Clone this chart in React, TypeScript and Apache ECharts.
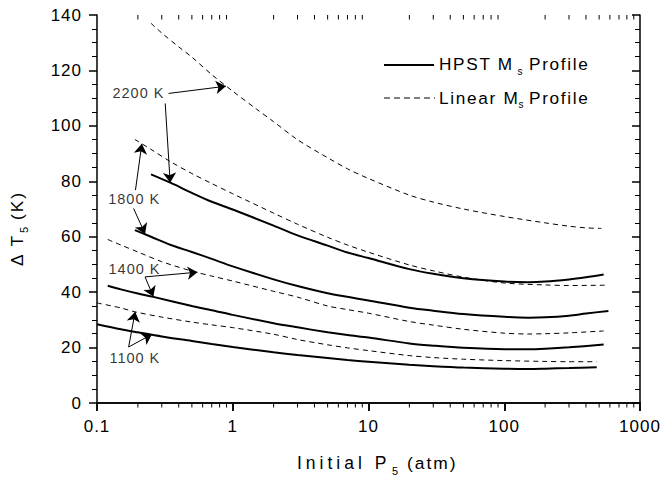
import React, { useEffect, useRef } from 'react';
import * as echarts from 'echarts';

// ---- axis ticks ----
const xMajorTicks = [0.1, 1, 10, 100, 1000];
const xMinorTicks = [0.2, 0.3, 0.4, 0.5, 0.6, 0.7, 0.8, 0.9, 2, 3, 4, 5, 6, 7, 8, 9, 20, 30, 40, 50, 60, 70, 80, 90, 200, 300, 400, 500, 600, 700, 800, 900];
const yMin = 0;
const yMax = 140;
const yInterval = 20;

// ---- series (Initial P5 atm, ΔT5 K) ----
const linear2200 = [[0.25, 137], [0.3, 133.5], [0.4, 128.5], [0.5, 124.8], [0.7, 118.5], [1, 112.5], [1.5, 106], [2, 101.5], [3, 95], [5, 88.5], [7, 84.5], [10, 81], [20, 75], [30, 72.5], [50, 70], [100, 67.3], [200, 65], [300, 63.8], [400, 63.2], [520, 63]];
const hpst2200 = [[0.25, 82.5], [0.35, 79.4], [0.5, 75.8], [0.7, 72.6], [1, 69.8], [2, 64], [3, 60.5], [5, 56.8], [7, 54.3], [10, 52.3], [20, 48.3], [30, 46.6], [50, 45], [100, 43.8], [150, 43.6], [200, 43.8], [300, 44.6], [400, 45.4], [540, 46.4]];
const linear1800 = [[0.19, 95.1], [0.25, 91.5], [0.35, 87], [0.5, 82.8], [0.7, 79.2], [1, 75.5], [2, 68.5], [3, 64.5], [5, 59.8], [7, 57], [10, 54.4], [20, 49.8], [30, 47.7], [50, 45.4], [100, 43.3], [200, 42.6], [300, 42.4], [550, 42.5]];
const hpst1800 = [[0.19, 62.4], [0.25, 60], [0.35, 57], [0.5, 54.5], [0.7, 52], [1, 49.3], [2, 44.6], [3, 42.2], [5, 39.6], [7, 38.3], [10, 37], [20, 34.4], [30, 33.3], [50, 32.1], [100, 31.1], [150, 30.8], [200, 30.9], [300, 31.5], [400, 32.3], [585, 33.2]];
const linear1400 = [[0.12, 59], [0.15, 57], [0.2, 54.5], [0.3, 51], [0.5, 47.6], [0.7, 45.8], [1, 44], [2, 40.3], [3, 38.2], [5, 35], [7, 33.7], [10, 32.4], [20, 29.4], [30, 28.1], [50, 26.6], [100, 25.2], [150, 24.9], [200, 25], [300, 25.3], [540, 26]];
const hpst1400 = [[0.12, 42.3], [0.15, 41], [0.2, 39.5], [0.26, 38.3], [0.5, 35], [0.7, 33.5], [1, 31.8], [2, 28.8], [3, 27.3], [5, 25.5], [7, 24.5], [10, 23.6], [20, 21.5], [30, 20.7], [50, 19.9], [100, 19.4], [150, 19.4], [200, 19.6], [300, 20.1], [540, 21.1]];
const linear1100 = [[0.1, 36.1], [0.15, 34.3], [0.19, 32.9], [0.3, 31], [0.5, 29.2], [0.7, 28.2], [1, 27.2], [2, 24.8], [3, 22.9], [5, 21], [7, 19.9], [10, 18.9], [20, 17.1], [30, 16.4], [50, 15.8], [100, 15.3], [200, 15], [300, 14.9], [480, 14.9]];
const hpst1100 = [[0.1, 28.4], [0.15, 26.6], [0.2, 25.5], [0.3, 24], [0.5, 22.4], [0.7, 21.3], [1, 20.2], [2, 18.3], [3, 17.3], [5, 16.2], [7, 15.5], [10, 14.9], [20, 13.8], [30, 13.3], [50, 12.8], [100, 12.4], [150, 12.3], [200, 12.4], [300, 12.6], [480, 12.9]];

// ---- annotations (data coordinates) ----
const annotLabels = [
  { name: '2200 K', value: [0.202, 111.7] },
  { name: '1800 K', value: [0.188, 73.6] },
  { name: '1400 K', value: [0.189, 48.2] },
  { name: '1100 K', value: [0.19, 16.3] },
];
const annotArrows = [
  [[0.337, 111.7], [0.89, 114.3]],
  [[0.318, 108.1], [0.346, 79.5]],
  [[0.192, 76.8], [0.214, 93.5]],
  [[0.186, 70.2], [0.226, 61.0]],
  [[0.226, 45.5], [0.55, 47.2]],
  [[0.226, 45.5], [0.26, 38.4]],
  [[0.171, 20.2], [0.191, 32.9]],
  [[0.171, 20.2], [0.254, 24.8]],
];

const legendNames = ['HPST M', 'Linear M'];
const FONT = '"Liberation Sans", Arial, sans-serif';

function lineSeries(name: string, data: number[][], dashed: boolean) {
  return {
    type: 'line',
    name,
    data,
    showSymbol: false,
    symbol: 'none',
    smooth: 0.3,
    clip: false,
    silent: true,
    lineStyle: dashed ? { color: '#000', width: 1, type: [5, 4] } : { color: '#000', width: 2 },
    z: 3,
  };
}

function txt(text: string, x: number, y: number, size: number, extra: any = {}) {
  return {
    type: 'text',
    x,
    y,
    silent: true,
    style: { text, fill: '#000', font: `${size}px ${FONT}`, verticalAlign: 'middle', align: 'left', ...extra },
  };
}

const css = `
#chartbox text { letter-spacing: 1px; }
#chartbox text[style*="17.2px"], #chartbox text[font-size*="17.2"] { letter-spacing: 1.7px; }
#chartbox text[style*="17.5px"], #chartbox text[font-size*="17.5"] { letter-spacing: 4px; }
#chartbox text[style*="17.4px"], #chartbox text[font-size*="17.4"] { letter-spacing: 2px; }
#chartbox text[style*="17.3px"], #chartbox text[font-size*="17.3"] { letter-spacing: 2px; }
`;

export default function App() {
  const ref = useRef<HTMLDivElement>(null);
  useEffect(() => {
    if (!ref.current) return;
    const chart = echarts.init(ref.current, undefined, { renderer: 'svg' });
    const axisLine = { show: true, lineStyle: { color: '#000', width: 1.5 } };
    const baseGraphics: any[] = [
      { type: 'line', silent: true, shape: { x1: 384, y1: 65, x2: 434, y2: 65 }, style: { stroke: '#000', lineWidth: 2 } },
      txt(legendNames[0], 439, 63.5, 17.2),
      txt('s', 517.5, 71.5, 10),
      txt('Profile', 529, 63.5, 17.2),
      { type: 'line', silent: true, shape: { x1: 384, y1: 98, x2: 435, y2: 98 }, style: { stroke: '#000', lineWidth: 1, lineDash: [6, 4] } },
      txt(legendNames[1], 439, 97.5, 17.2),
      txt('s', 518.5, 104.5, 10),
      txt('Profile', 529, 97.5, 17.2),
      // x axis title
      txt('Initial P', 297, 463, 17.5),
      txt('5', 392, 471, 11),
      txt('(atm)', 407, 463, 17.4),
      // y axis title (rotated)
      {
        type: 'group',
        x: 17,
        y: 266,
        rotation: Math.PI / 2,
        silent: true,
        children: [
          txt('\u0394 T', 0, 0, 17.3),
          txt('5', 33, 7, 11),
          txt('(K)', 46, 0, 17.3),
        ],
      },
    ];
    const option: any = {
      animation: false,
      backgroundColor: '#fff',
      grid: { left: 97, right: 24, top: 15, bottom: 75, containLabel: false, outerBoundsMode: 'none' },
      xAxis: [
        {
          type: 'log', logBase: 10, min: xMajorTicks[0], max: xMajorTicks[xMajorTicks.length - 1], position: 'bottom',
          axisLine, splitLine: { show: false }, minorTick: { show: false },
          axisTick: { show: true, inside: false, length: 8, lineStyle: { color: '#000', width: 1.5 } },
          axisLabel: { show: true, margin: 15, color: '#000', fontSize: 17, fontFamily: FONT, showMinLabel: true, showMaxLabel: true, formatter: (v: number) => String(Number(v.toPrecision(6))) },
        },
        {
          type: 'log', logBase: 10, min: xMajorTicks[0], max: xMajorTicks[xMajorTicks.length - 1], position: 'top',
          axisLine, splitLine: { show: false }, axisLabel: { show: false },
          axisTick: { show: true, inside: true, length: 8, lineStyle: { color: '#000', width: 1.5 } },
        },
      ],
      yAxis: [
        {
          type: 'value', min: yMin, max: yMax, interval: yInterval, position: 'left',
          axisLine, splitLine: { show: false },
          axisTick: { show: true, inside: false, length: 8, lineStyle: { color: '#000', width: 1.5 } },
          minorTick: { show: true, splitNumber: 4, length: 5, lineStyle: { color: '#000', width: 1 } },
          axisLabel: { margin: 15, color: '#000', fontSize: 17, fontFamily: FONT, showMinLabel: true, showMaxLabel: true },
        },
        {
          type: 'value', min: yMin, max: yMax, interval: yInterval, position: 'right',
          axisLine, splitLine: { show: false }, axisLabel: { show: false },
          axisTick: { show: true, inside: true, length: 8, lineStyle: { color: '#000', width: 1.5 } },
          minorTick: { show: true, splitNumber: 4, length: 5, lineStyle: { color: '#000', width: 1 } },
        },
      ],
      series: [
        lineSeries('HPST 2200 K', hpst2200, false),
        lineSeries('Linear 2200 K', linear2200, true),
        lineSeries('HPST 1800 K', hpst1800, false),
        lineSeries('Linear 1800 K', linear1800, true),
        lineSeries('HPST 1400 K', hpst1400, false),
        lineSeries('Linear 1400 K', linear1400, true),
        lineSeries('HPST 1100 K', hpst1100, false),
        lineSeries('Linear 1100 K', linear1100, true),
        {
          type: 'scatter',
          name: 'labels',
          silent: true,
          symbol: 'rect',
          symbolSize: 0,
          itemStyle: { color: '#000' },
          data: annotLabels,
          label: { show: true, position: 'inside', formatter: '{b}', color: '#000', fontSize: 14.5, fontFamily: FONT },
          markLine: {
            silent: true,
            symbol: ['none', 'arrow'],
            symbolSize: 10,
            label: { show: false },
            itemStyle: { color: '#000' },
            lineStyle: { color: '#000', width: 1, type: 'solid' },
            data: annotArrows.map(([a, b]) => [{ coord: a }, { coord: b }]),
          },
          z: 5,
        },
      ],
      graphic: baseGraphics,
    };
    chart.setOption(option);

    // minor ticks of the log axes, placed through the chart's own scales
    const tickEls: any[] = [];
    xMinorTicks.forEach((v) => {
      const b = chart.convertToPixel({ xAxisIndex: 0, yAxisIndex: 0 }, [v, yMin]) as number[];
      const t = chart.convertToPixel({ xAxisIndex: 0, yAxisIndex: 0 }, [v, yMax]) as number[];
      if (!b || !t) return;
      tickEls.push({ type: 'line', silent: true, z: 10, shape: { x1: b[0], y1: b[1], x2: b[0], y2: b[1] + 4.5 }, style: { stroke: '#000', lineWidth: 1 } });
      tickEls.push({ type: 'line', silent: true, z: 10, shape: { x1: t[0], y1: t[1], x2: t[0], y2: t[1] + 4.5 }, style: { stroke: '#000', lineWidth: 1 } });
    });
    chart.setOption({ graphic: baseGraphics.concat(tickEls) });
    return () => chart.dispose();
  }, []);
  return (
    <>
      <style>{css}</style>
      <div id="chartbox" ref={ref} style={{ position: 'fixed', left: 0, top: 0, width: 664, height: 478, background: '#fff' }} />
    </>
  );
}
